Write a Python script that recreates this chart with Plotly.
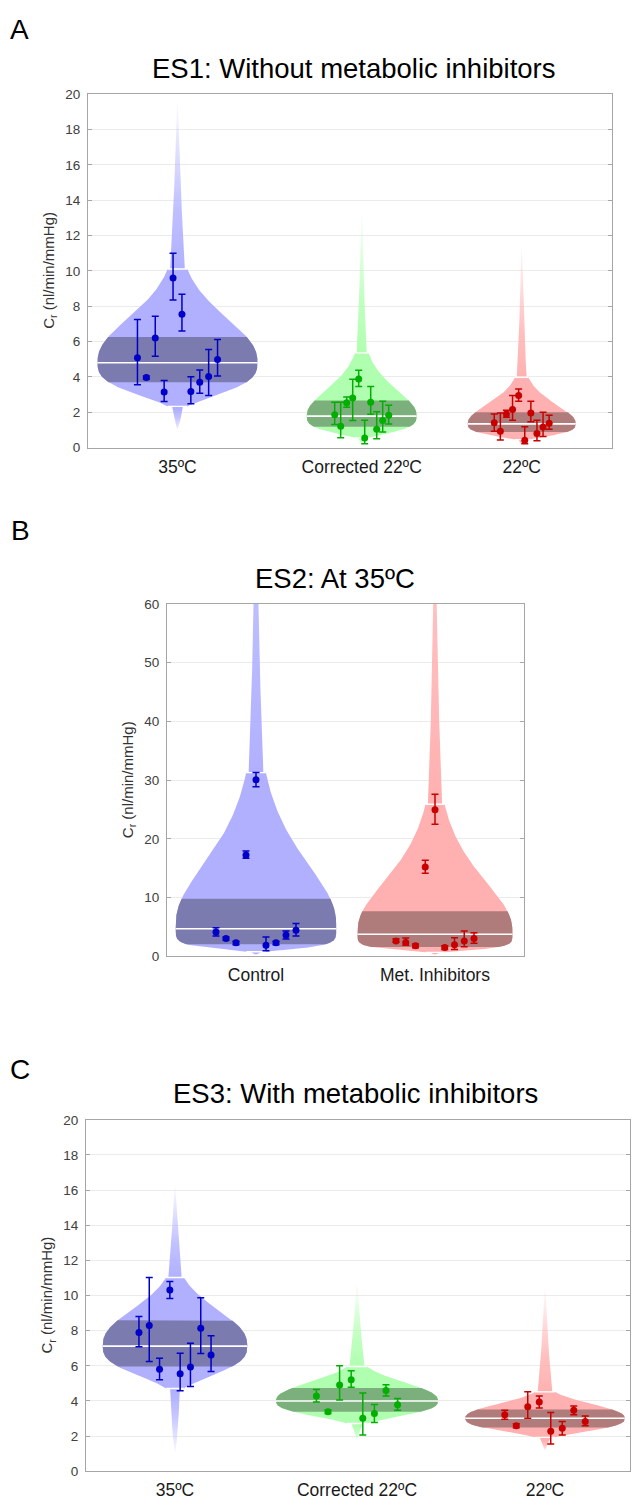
import numpy as np
import plotly.graph_objects as go

# page is 632x1505; body margin removed via post_script so figure pixels == page pixels
OFFX, OFFY = 0, 0
FW, FH = 632, 1505

# ---------------- Panel A : ES1 ----------------
A_title = "ES1: Without metabolic inhibitors"
A_cats = ["35ºC", "Corrected 22ºC", "22ºC"]
A_median = [4.8, 1.78, 1.34]
A_q1 = [3.7, 1.18, 0.88]
A_q3 = [6.25, 2.67, 2.0]
A_whisk_lo = [2.33, 0.55, 0.45]
A_whisk_hi = [10.1, 5.36, 3.98]
A_tail_lo = [1.0, 0.25, 0.2]
A_tail_hi = [20.0, 14.0, 12.0]

A_35_y = [5.08, 3.96, 6.20, 3.15, 9.60, 7.54, 3.17, 3.70, 4.02, 4.99]
A_35_hi = [7.25, 4.05, 7.43, 3.79, 11.0, 8.68, 4.01, 4.39, 5.55, 6.12]
A_35_lo = [3.55, 3.87, 5.17, 2.61, 8.35, 6.59, 2.48, 3.08, 2.95, 4.05]
A_c22_y = [1.85, 1.21, 2.54, 2.80, 3.88, 0.54, 2.56, 1.03, 1.53, 1.83]
A_c22_hi = [2.56, 2.56, 2.86, 3.87, 4.37, 1.55, 3.46, 2.02, 2.62, 2.39]
A_c22_lo = [1.31, 0.56, 2.28, 1.53, 3.46, 0.21, 1.89, 0.50, 0.88, 1.34]
A_22_y = [1.40, 0.93, 1.90, 2.15, 2.95, 0.41, 1.96, 0.80, 1.16, 1.38]
A_22_hi = [1.90, 1.96, 2.11, 2.95, 3.31, 1.18, 2.62, 1.55, 2.00, 1.83]
A_22_lo = [0.93, 0.43, 1.72, 1.55, 2.62, 0.22, 1.46, 0.38, 0.62, 1.03]

# ---------------- Panel B : ES2 ----------------
B_title = "ES2: At 35ºC"
B_cats = ["Control", "Met. Inhibitors"]
B_median = [4.72, 3.77]
B_q1 = [2.08, 1.6]
B_q3 = [9.83, 7.7]
B_whisk_lo = [0.8, 0.7]
B_whisk_hi = [31.3, 25.9]
B_tail_lo = [0.3, 0.3]
B_tail_hi = [80.0, 75.0]

B_ctrl_y = [4.16, 3.04, 2.31, 17.25, 30.07, 1.91, 2.31, 3.66, 4.44]
B_ctrl_hi = [4.89, 3.32, 2.60, 17.93, 31.3, 3.32, 2.60, 4.33, 5.62]
B_ctrl_lo = [3.49, 2.75, 2.00, 16.7, 28.9, 0.96, 2.00, 2.98, 3.49]
B_met_y = [2.64, 2.36, 1.80, 15.23, 24.96, 1.52, 1.97, 2.64, 3.04]
B_met_hi = [3.00, 3.15, 2.10, 16.36, 27.6, 1.80, 3.20, 4.33, 4.05]
B_met_lo = [2.40, 1.91, 1.50, 14.17, 22.5, 1.20, 1.18, 1.63, 2.25]

# ---------------- Panel C : ES3 ----------------
C_title = "ES3: With metabolic inhibitors"
C_cats = ["35ºC", "Corrected 22ºC", "22ºC"]
C_median = [7.12, 4.0, 3.02]
C_q1 = [5.96, 3.38, 2.49]
C_q3 = [8.59, 4.74, 3.52]
C_whisk_lo = [4.71, 2.72, 1.93]
C_whisk_hi = [11.03, 5.96, 4.52]
C_tail_lo = [1.0, 1.8, 1.2]
C_tail_hi = [16.5, 11.0, 10.8]

C_35_y = [7.90, 8.29, 5.81, 10.31, 5.55, 5.93, 8.14, 6.62]
C_35_hi = [8.81, 11.03, 6.43, 10.8, 6.71, 7.28, 9.88, 7.71]
C_35_lo = [7.09, 6.25, 5.21, 9.83, 4.58, 4.82, 6.70, 5.68]
C_c22_y = [4.28, 3.39, 4.91, 5.21, 3.02, 3.28, 4.59, 3.79]
C_c22_hi = [4.65, 3.50, 6.00, 5.72, 4.46, 3.80, 4.93, 4.14]
C_c22_lo = [3.94, 3.28, 4.05, 4.78, 2.06, 2.77, 4.28, 3.47]
C_22_y = [3.21, 2.59, 3.67, 3.94, 2.27, 2.45, 3.47, 2.83]
C_22_hi = [3.47, 2.70, 4.52, 4.28, 3.34, 2.83, 3.71, 3.15]
C_22_lo = [2.96, 2.48, 3.02, 3.60, 1.55, 2.06, 3.22, 2.59]

# ---------------- styling / layout constants (page pixels) ----------------
BLUE = dict(light=(176, 176, 255), dark="rgb(123,123,175)", pt="rgb(0,0,200)")
GREEN = dict(light=(176, 255, 176), dark="rgb(123,175,123)", pt="rgb(0,175,0)")
RED = dict(light=(255, 176, 176), dark="rgb(175,123,123)", pt="rgb(200,0,0)")

PANELS = [
    dict(name="A", title=A_title, cats=A_cats, colors=[BLUE, GREEN, RED],
         px=(88, 612), py=(88, 445), slots=[177.5, 361.7, 521.7],
         halfw=[80, 55, 54], step=[8.9, 6.0, 6.1], ymax=20, dtick=2, shape_p=2.6, fade_mid=0.35,
         med=A_median, q1=A_q1, q3=A_q3, wlo=A_whisk_lo, whi=A_whisk_hi,
         tlo=A_tail_lo, thi=A_tail_hi,
         pts=[(A_35_y, A_35_hi, A_35_lo), (A_c22_y, A_c22_hi, A_c22_lo), (A_22_y, A_22_hi, A_22_lo)],
         title_xy=(354, 62), letter_xy=(19, 23), ytitle_x=50),
    dict(name="B", title=B_title, cats=B_cats, colors=[BLUE, RED],
         px=(167, 524), py=(603, 959), slots=[256, 435],
         halfw=[80.3, 77.5], step=[10.0, 9.75], ymax=60, dtick=10, shape_p=3.5, fade_mid=0.7,
         med=B_median, q1=B_q1, q3=B_q3, wlo=B_whisk_lo, whi=B_whisk_hi,
         tlo=B_tail_lo, thi=B_tail_hi,
         pts=[(B_ctrl_y, B_ctrl_hi, B_ctrl_lo), (B_met_y, B_met_hi, B_met_lo)],
         title_xy=(335, 577), letter_xy=(20, 529), ytitle_x=128),
    dict(name="C", title=C_title, cats=C_cats, colors=[BLUE, GREEN, RED],
         px=(86, 630), py=(1124, 1479), slots=[175, 357, 545],
         halfw=[72.3, 81, 79.7], step=[10.3, 11.6, 11.5], ymax=20, dtick=2, shape_p=2.6, fade_mid=0.35,
         med=C_median, q1=C_q1, q3=C_q3, wlo=C_whisk_lo, whi=C_whisk_hi,
         tlo=C_tail_lo, thi=C_tail_hi,
         pts=[(C_35_y, C_35_hi, C_35_lo), (C_c22_y, C_c22_hi, C_c22_lo), (C_22_y, C_22_hi, C_22_lo)],
         title_xy=(355, 1097), letter_xy=(20, 1073), ytitle_x=48),
]

FONT = "Liberation Sans, Arial, sans-serif"


def px2paper_x(px):
    return (px - OFFX) / FW


def px2paper_y(py):
    return 1 - (py - OFFY) / FH


def body_width(y, med, wlo, whi, p):
    u = np.where(y >= med, np.log(y / med) / np.log(whi / med),
                 np.log(med / y) / np.log(med / wlo))
    return np.exp(-2.1 * np.abs(u) ** p)


def rgba(c, a):
    return "rgba(%d,%d,%d,%.3f)" % (c[0], c[1], c[2], a)


fig = go.Figure()


def add_poly(xa, ya, x, y, color, gradient=None):
    kw = {}
    if gradient is not None:
        kw["fillgradient"] = gradient
    fig.add_trace(go.Scatter(x=x, y=y, fill="toself", fillcolor=color, mode="lines",
                             line=dict(width=0, color="rgba(0,0,0,0)"), hoverinfo="skip",
                             showlegend=False, xaxis=xa, yaxis=ya, **kw))


def add_hline(xa, ya, cx, half, yv, width):
    fig.add_trace(go.Scatter(x=[cx - half, cx + half], y=[yv, yv], mode="lines",
                             line=dict(color="white", width=width), hoverinfo="skip",
                             showlegend=False, xaxis=xa, yaxis=ya))


for pi, P in enumerate(PANELS):
    k = "" if pi == 0 else str(pi + 1)
    xa, ya = "x" + k, "y" + k
    sp = P["shape_p"]
    fm = P["fade_mid"]
    for gi, cat in enumerate(P["cats"]):
        col = P["colors"][gi]
        lc = col["light"]
        cx, hw = P["slots"][gi], P["halfw"][gi]
        med, q1, q3 = P["med"][gi], P["q1"][gi], P["q3"][gi]
        wlo, whi = P["wlo"][gi], P["whi"][gi]
        # tails beyond whiskers, fading out
        for (ys0, ye, frac) in [(whi, P["thi"][gi], 0.75), (wlo, P["tlo"][gi], 0.55)]:
            t0 = frac * body_width(np.array([ys0]), med, wlo, whi, sp)[0]
            tt = np.linspace(0, 1, 120)
            yy = np.exp(np.log(ys0) + tt * (np.log(ye) - np.log(ys0)))
            ww = t0 * (1 - tt) ** 1.0 * hw
            opaque, clear = rgba(lc, 1), rgba(lc, 0)
            if ye > ys0:
                grad = dict(type="vertical", start=ys0, stop=ye,
                            colorscale=[[0, opaque], [fm, rgba(lc, 0.8)], [1, clear]])
            else:
                grad = dict(type="vertical", start=ye, stop=ys0,
                            colorscale=[[0, clear], [0.65, rgba(lc, 0.75)], [1, opaque]])
            add_poly(xa, ya, np.concatenate([cx - ww, (cx + ww)[::-1]]),
                     np.concatenate([yy, yy[::-1]]), rgba(lc, 0.5), grad)
        # body
        ys = np.exp(np.linspace(np.log(wlo), np.log(whi), 300))
        w = body_width(ys, med, wlo, whi, sp) * hw
        add_poly(xa, ya, np.concatenate([cx - w, (cx + w)[::-1]]),
                 np.concatenate([ys, ys[::-1]]), rgba(lc, 1))
        # interquartile band
        yb = np.exp(np.linspace(np.log(q1), np.log(q3), 200))
        wb = body_width(yb, med, wlo, whi, sp) * hw
        add_poly(xa, ya, np.concatenate([cx - wb, (cx + wb)[::-1]]),
                 np.concatenate([yb, yb[::-1]]), col["dark"])
        # white lines: median and whisker ends
        add_hline(xa, ya, cx, hw, med, 1.6)
        for v in (wlo, whi):
            add_hline(xa, ya, cx, body_width(np.array([v]), med, wlo, whi, sp)[0] * hw, v, 1.4)
        # points with error bars
        py_, phi, plo = (np.array(a) for a in P["pts"][gi])
        n = len(py_)
        xs = cx + (np.arange(n) - (n - 1) / 2) * P["step"][gi]
        fig.add_trace(go.Scatter(
            x=xs, y=py_, mode="markers",
            marker=dict(size=7, color=col["pt"]),
            error_y=dict(type="data", symmetric=False, array=phi - py_, arrayminus=py_ - plo,
                         color=col["pt"], thickness=1.5, width=3.5),
            showlegend=False, hoverinfo="skip", xaxis=xa, yaxis=ya))

    l, r = P["px"]
    t, b = P["py"]
    fig.update_layout(**{
        "xaxis" + k: dict(domain=[px2paper_x(l), px2paper_x(r)], range=[l, r], anchor=ya,
                          tickvals=P["slots"], ticktext=P["cats"], ticks="",
                          showline=True, mirror=True, linecolor="#a6a6a6", linewidth=1,
                          showgrid=False, zeroline=False,
                          tickfont=dict(family=FONT, size=17.5, color="#1a1a1a"),
                          ticklabelstandoff=3),
        "yaxis" + k: dict(domain=[px2paper_y(b), px2paper_y(t)], range=[0, P["ymax"]], dtick=P["dtick"],
                          anchor=xa, showgrid=True, gridcolor="#ebebeb", gridwidth=1,
                          showline=True, mirror="ticks", linecolor="#a6a6a6", linewidth=1,
                          ticks="inside", ticklen=4, tickcolor="#a6a6a6",
                          zeroline=False, tickfont=dict(family=FONT, size=13.5, color="#404040"),
                          ticklabelstandoff=4),
    })
    ann = [
        dict(text=P["title"], x=px2paper_x(P["title_xy"][0]), y=px2paper_y(P["title_xy"][1]),
             font=dict(family=FONT, size=27.5, color="black")),
        dict(text=P["name"], x=px2paper_x(P["letter_xy"][0]), y=px2paper_y(P["letter_xy"][1]),
             font=dict(family=FONT, size=28, color="black")),
        dict(text="C<sub>r</sub> (nl/min/mmHg)", x=px2paper_x(P["ytitle_x"]),
             y=px2paper_y((t + b) / 2),
             textangle=-90, font=dict(family=FONT, size=15, color="#333333")),
    ]
    for a in ann:
        a.update(xref="paper", yref="paper", showarrow=False, xanchor="center", yanchor="middle")
        fig.add_annotation(**a)

fig.update_layout(width=FW, height=FH, margin=dict(l=0, r=0, t=0, b=0),
                  paper_bgcolor="white", plot_bgcolor="white", showlegend=False,
                  font=dict(family=FONT))
fig.write_html("out.html", config={"displayModeBar": False},
               post_script="document.body.style.margin='0';document.body.style.overflow='hidden';")
